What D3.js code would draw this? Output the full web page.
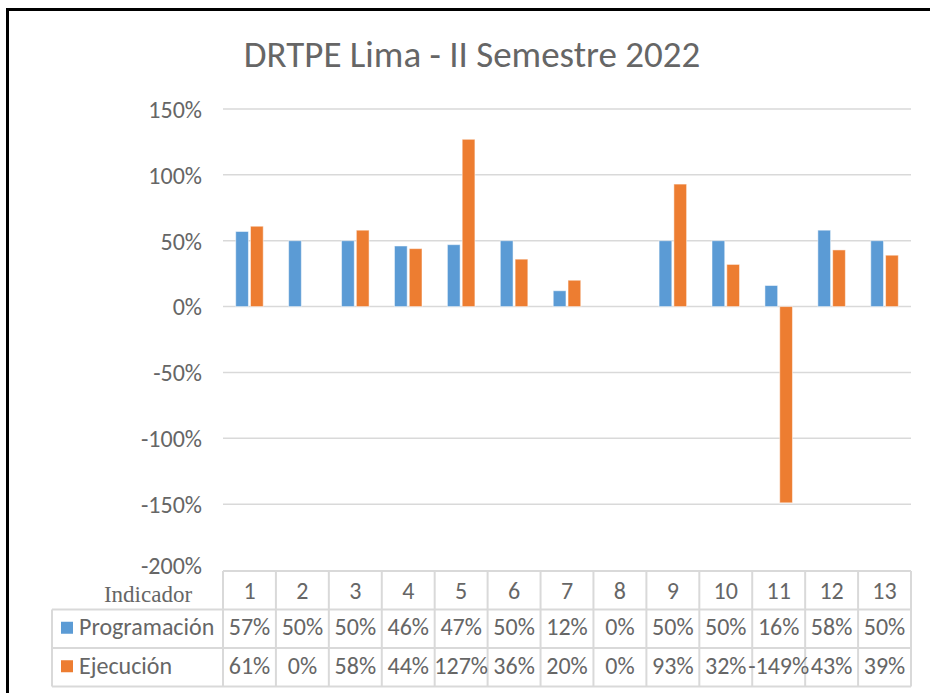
<!DOCTYPE html>
<html>
<head>
<meta charset="utf-8">
<script src="https://cdn.jsdelivr.net/npm/d3@7"></script>
<style>
  body { margin: 0; background: #fff; }
  svg { display: block; font-family: Carlito, Lato, "Open Sans", sans-serif; }
</style>
</head>
<body>
<div id="chart"></div>
<script>
// data
const categories = ["1","2","3","4","5","6","7","8","9","10","11","12","13"];
const seriesNames = ["Programación", "Ejecución"];
const programacion = [57, 50, 50, 46, 47, 50, 12, 0, 50, 50, 16, 58, 50];
const ejecucion = [61, 0, 58, 44, 127, 36, 20, 0, 93, 32, -149, 43, 39];
const yTicks = [150, 100, 50, 0, -50, -100, -150, -200];
const colors = ["#5B9BD5", "#ED7D31"];

const width = 930, height = 693;
const plotLeft = 223, plotRight = 911;
const labelLeft = 52;
const textColor = "#666666";
const gridColor = "#d9d9d9";

const svg = d3.select("#chart").append("svg")
  .attr("width", width)
  .attr("height", height);

// frame
svg.append("rect")
  .attr("x", 7.5).attr("y", 9.5)
  .attr("width", 940).attr("height", 700)
  .attr("fill", "none")
  .attr("stroke", "#000")
  .attr("stroke-width", 3);

// title
svg.append("text")
  .attr("x", 472).attr("y", 67)
  .attr("text-anchor", "middle")
  .style("font-size", "37px")
  .style("fill", textColor)
  .text("DRTPE Lima - II Semestre 2022");

const y = d3.scaleLinear().domain([-200, 150]).range([570, 109]);
const x = d3.scaleBand().domain(categories).range([plotLeft, plotRight]);
const bw = x.bandwidth();
const xs = d3.scaleBand().domain(seriesNames)
  .range([bw * 0.24, bw * 0.76]).paddingInner(0.14);

// gridlines
svg.append("g").selectAll("line")
  .data(yTicks.filter(d => d > -200))
  .enter().append("line")
  .attr("x1", plotLeft).attr("x2", plotRight)
  .attr("y1", d => y(d)).attr("y2", d => y(d))
  .attr("stroke", gridColor)
  .attr("stroke-width", 1.5);

// y axis labels
const yAxis = d3.axisLeft(y).tickValues(yTicks).tickSize(0).tickPadding(0)
  .tickFormat(d => d + "%");
const yg = svg.append("g").attr("transform", "translate(202,0)").call(yAxis);
yg.select(".domain").remove();
yg.selectAll("text")
  .style("font-size", "24px")
  .style("font-family", "Carlito, Lato, 'Open Sans', sans-serif")
  .attr("fill", textColor)
  .attr("dy", "0.35em");
yg.selectAll(".tick").filter(d => d === -200).select("text").attr("dy", "0.15em");

// bars
const rows = categories.map((c, i) => ({ cat: c, values: [programacion[i], ejecucion[i]] }));
const groups = svg.append("g").selectAll("g")
  .data(rows).enter().append("g")
  .attr("transform", d => `translate(${x(d.cat)},0)`);
groups.selectAll("rect")
  .data(d => d.values.map((v, j) => ({ v, s: seriesNames[j], j })))
  .enter().append("rect")
  .attr("x", d => xs(d.s))
  .attr("width", xs.bandwidth())
  .attr("y", d => y(Math.max(0, d.v)))
  .attr("height", d => Math.abs(y(d.v) - y(0)))
  .attr("fill", d => colors[d.j])
  .attr("stroke", "#fff")
  .attr("stroke-opacity", 0.5)
  .attr("stroke-width", 1);

// data table
const tTop = 571, rowH = 38.5;
const table = svg.append("g");
const lineStyle = sel => sel.attr("stroke", gridColor).attr("stroke-width", 2);

// horizontal lines
table.append("line").attr("x1", plotLeft).attr("x2", plotRight)
  .attr("y1", tTop).attr("y2", tTop).call(lineStyle);
[1, 2, 3].forEach(r => {
  table.append("line").attr("x1", labelLeft).attr("x2", plotRight)
    .attr("y1", tTop + r * rowH).attr("y2", tTop + r * rowH).call(lineStyle);
});
// vertical lines
table.append("line").attr("x1", labelLeft).attr("x2", labelLeft)
  .attr("y1", tTop + rowH).attr("y2", tTop + 3 * rowH).call(lineStyle);
categories.concat(["end"]).forEach((c, i) => {
  const xx = plotLeft + i * bw;
  table.append("line").attr("x1", xx).attr("x2", xx)
    .attr("y1", tTop).attr("y2", tTop + 3 * rowH).call(lineStyle);
});

// header numbers
table.selectAll(".hdr").data(categories).enter().append("text")
  .attr("x", d => x(d) + bw / 2)
  .attr("y", tTop + rowH / 2)
  .attr("dy", "0.36em")
  .attr("text-anchor", "middle")
  .style("font-size", "24px")
  .style("fill", textColor)
  .text(d => d);

// "Indicador" label
table.append("text")
  .attr("x", 148).attr("y", 602)
  .attr("text-anchor", "middle")
  .style("font-family", "'Liberation Serif', serif")
  .style("font-size", "23px")
  .style("fill", textColor)
  .text("Indicador");

// series rows
[programacion, ejecucion].forEach((vals, r) => {
  const cy = tTop + rowH * (r + 1) + rowH / 2 - 2;
  table.append("rect")
    .attr("x", 61).attr("y", cy - 5)
    .attr("width", 12).attr("height", 12)
    .attr("fill", colors[r]);
  table.append("text")
    .attr("x", 79).attr("y", cy).attr("dy", "0.36em")
    .style("font-size", "24px")
    .style("fill", textColor)
    .text(seriesNames[r]);
  table.selectAll(".v" + r).data(vals).enter().append("text")
    .attr("x", (d, i) => x(categories[i]) + bw / 2)
    .attr("y", cy).attr("dy", "0.36em")
    .attr("text-anchor", "middle")
    .style("font-size", "24px")
    .style("fill", textColor)
    .text(d => d + "%");
});
</script>
</body>
</html>
